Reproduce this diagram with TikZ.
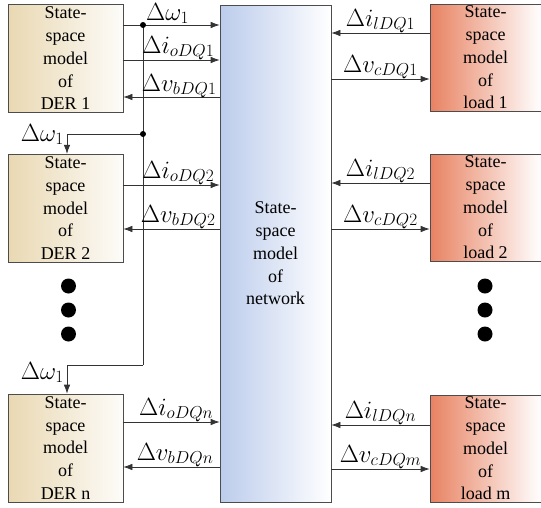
\documentclass[tikz,border=0pt]{standalone}
\usepackage{fontspec}
\setmainfont{Liberation Serif}
\usepackage{xcolor}
\usetikzlibrary{arrows.meta, positioning}

\definecolor{derfill}{RGB}{233,216,178}
\definecolor{loadfill}{RGB}{232,130,98}
\definecolor{netfill}{RGB}{188,204,236}

\begin{document}
\begin{tikzpicture}[x=1pt, y=-1pt,
    model/.style={rectangle, draw=black!70, line width=0.7pt,
                  minimum width=115pt, minimum height=108pt, inner sep=0pt,
                  align=center, font=\fontsize{18}{22.75}\selectfont},
    der/.style={model, left color=derfill, right color=derfill!8},
    load/.style={model, minimum width=111pt, minimum height=107pt,
                 left color=loadfill, right color=white},
    net/.style={model, minimum width=111pt, minimum height=497pt,
                left color=netfill, right color=white},
    arr/.style={-{Latex[length=9pt,width=6.5pt]}, line width=0.7pt, draw=black!80},
    bus/.style={line width=0.7pt, draw=black!80},
    lbl/.style={inner sep=0pt, font=\fontsize{23.5}{26}\selectfont}
]
\useasboundingbox (0,0) rectangle (541,507);

% state-space blocks
\node[der] (der1) at (65.5,58.5) {State-\\space\\model\\of\\DER 1};
\node[der, below=41pt of der1] (der2) {State-\\space\\model\\of\\DER 2};
\node[der] (dern) at (65.5,448) {State-\\space\\model\\of\\DER n};

\node[net] (net) at (275.5,253.5) {State-\\space\\model\\of\\network};

\node[load] (load1) at (485.5,57.5) {State-\\space\\model\\of\\load 1};
\node[load] (load2) at (485.5,207.5) {State-\\space\\model\\of\\load 2};
\node[load] (loadm) at (485.5,448.5) {State-\\space\\model\\of\\load m};

% signal levels
\coordinate (w1) at (143,25);
\coordinate (b2) at (143,134);
\coordinate (bn) at (143,365);
\coordinate (c2) at (67,134);
\coordinate (cn) at (67,365);
\coordinate (io1) at (0,60);
\coordinate (vb1) at (0,97);
\coordinate (il1) at (0,33);
\coordinate (vc1) at (0,79);
\coordinate (io2) at (0,185);
\coordinate (vb2) at (0,229);
\coordinate (il2) at (0,183);
\coordinate (vc2) at (0,229);
\coordinate (ion) at (0,422);
\coordinate (vbn) at (0,467);
\coordinate (iln) at (0,425);
\coordinate (vcm) at (0,469);

% frequency bus
\draw[arr] (w1 -| der1.east) -- (w1 -| net.west);
\node[lbl, anchor=base west] (lw1) at (146,20) {$\Delta\omega_1$};
\draw[bus] (w1) -- (bn);
\draw[arr] (b2) -- (c2) -- (c2 |- der2.north);
\draw[arr] (bn) -- (cn) -- (cn |- dern.north);
\node[lbl, anchor=base east] (lw2) at (64,141) {$\Delta\omega_1$};
\node[lbl, anchor=base east] (lwn) at (64,379) {$\Delta\omega_1$};
\fill (w1) circle (3pt);
\fill (b2) circle (3pt);

% DER side
\draw[arr] (io1 -| der1.east) -- (io1 -| net.west)
    node[lbl, anchor=base east, xshift=-5pt, yshift=7pt] {$\Delta i_{oDQ1}$};
\draw[arr] (vb1 -| net.west) -- (vb1 -| der1.east);
\node[lbl, anchor=base east] at ([xshift=-3pt, yshift=6pt]vb1 -| net.west) {$\Delta v_{bDQ1}$};
\draw[arr] (io2 -| der2.east) -- (io2 -| net.west)
    node[lbl, anchor=base east, xshift=-5pt, yshift=7pt] {$\Delta i_{oDQ2}$};
\draw[arr] (vb2 -| net.west) -- (vb2 -| der2.east);
\node[lbl, anchor=base east] at ([xshift=-4pt, yshift=7pt]vb2 -| net.west) {$\Delta v_{bDQ2}$};
\draw[arr] (ion -| dern.east) -- (ion -| net.west)
    node[lbl, anchor=base east, xshift=-6pt, yshift=7pt] {$\Delta i_{oDQn}$};
\draw[arr] (vbn -| net.west) -- (vbn -| dern.east);
\node[lbl, anchor=base east] at ([xshift=-6pt, yshift=7pt]vbn -| net.west) {$\Delta v_{bDQn}$};

% load side
\draw[arr] (il1 -| load1.west) -- node[lbl, anchor=base, yshift=7pt] {$\Delta i_{lDQ1}$} (il1 -| net.east);
\draw[arr] (vc1 -| net.east) -- node[lbl, anchor=base, yshift=7pt] {$\Delta v_{cDQ1}$} (vc1 -| load1.west);
\draw[arr] (il2 -| load2.west) -- node[lbl, anchor=base, yshift=7pt] {$\Delta i_{lDQ2}$} (il2 -| net.east);
\draw[arr] (vc2 -| net.east) -- node[lbl, anchor=base, yshift=7pt] {$\Delta v_{cDQ2}$} (vc2 -| load2.west);
\draw[arr] (iln -| loadm.west) -- node[lbl, anchor=base, yshift=7pt] {$\Delta i_{lDQn}$} (iln -| net.east);
\draw[arr] (vcm -| net.east) -- node[lbl, anchor=base, yshift=7pt] {$\Delta v_{cDQm}$} (vcm -| loadm.west);

% ellipsis dots
\foreach \y in {286,310,334} {
    \fill (68.5,\y) circle (7.5pt);
    \fill (485,\y) circle (7.5pt);
}

\end{tikzpicture}
\end{document}
